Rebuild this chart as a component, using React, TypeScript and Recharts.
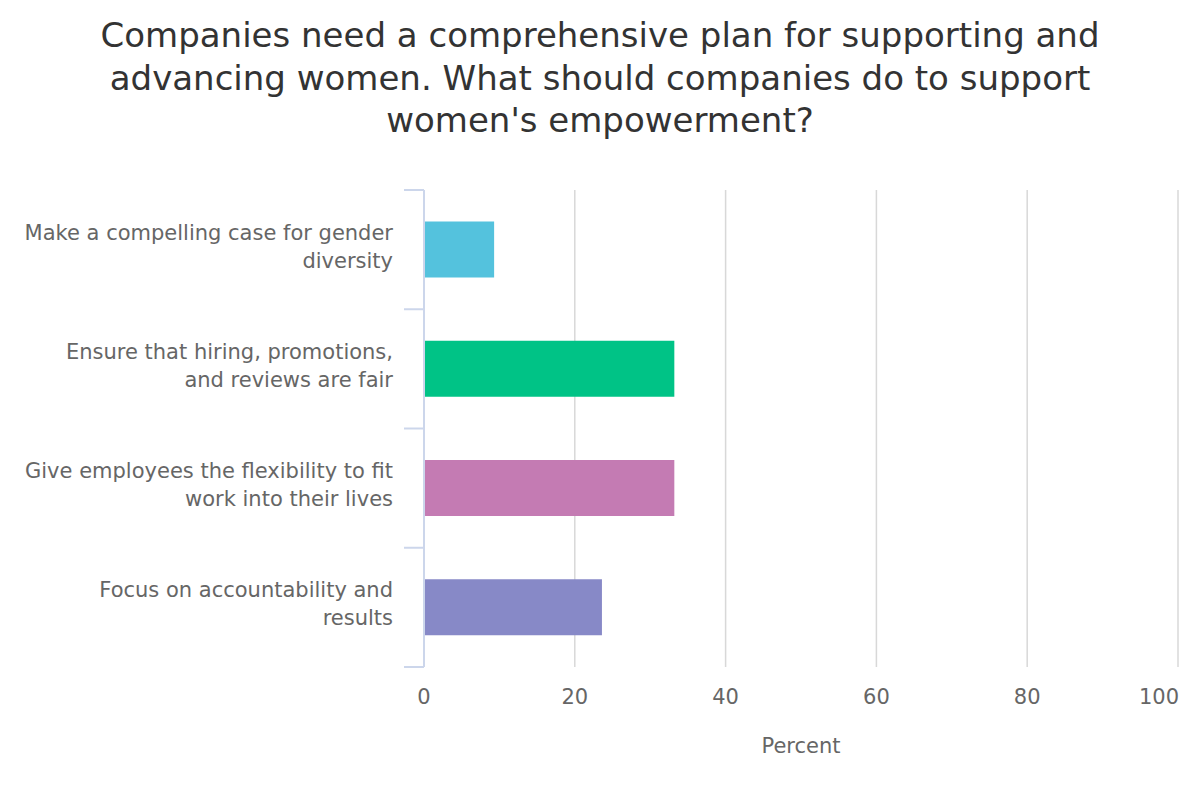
import { BarChart, Bar, XAxis, YAxis, CartesianGrid, Cell } from "recharts";

const titleLines = [
  "Companies need a comprehensive plan for supporting and",
  "advancing women. What should companies do to support",
  "women's empowerment?",
];

const categories = [
  "Make a compelling case for gender diversity",
  "Ensure that hiring, promotions, and reviews are fair",
  "Give employees the flexibility to fit work into their lives",
  "Focus on accountability and results",
];

const categoryLines = [
  ["Make a compelling case for gender", "diversity"],
  ["Ensure that hiring, promotions,", "and reviews are fair"],
  ["Give employees the flexibility to fit", "work into their lives"],
  ["Focus on accountability and", "results"],
];

const percents = [9.3, 33.2, 33.2, 23.6];
const barColors = ["#54c2dd", "#00c386", "#c47bb3", "#8789c7"];
const xTicks = [0, 20, 40, 60, 80, 100];

const data = categories.map((name, i) => ({ name, value: percents[i] }));

const FONT = "'DejaVu Sans', Verdana, sans-serif";
const PLOT_LEFT = 424;
const PLOT_TOP = 190;
const PLOT_BOTTOM = 667;
const CHART_RIGHT = 1179;
const BAND = (PLOT_BOTTOM - PLOT_TOP) / categories.length;

function CategoryTick(props: any) {
  const { y, index, payload } = props;
  const lines: string[] = categoryLines[index] ?? [String(payload.value)];
  const lineH = 28;
  const start = y - 17;
  const top = y - BAND / 2;
  return (
    <g>
      <line x1={PLOT_LEFT - 20} x2={PLOT_LEFT} y1={top} y2={top} stroke="#ccd6eb" strokeWidth={2} />
      {index === categories.length - 1 ? (
        <line
          x1={PLOT_LEFT - 20}
          x2={PLOT_LEFT}
          y1={top + BAND}
          y2={top + BAND}
          stroke="#ccd6eb"
          strokeWidth={2}
        />
      ) : null}
      <text textAnchor="end" fontFamily={FONT} fontSize={21} fill="#666666">
        {lines.map((l, i) => (
          <tspan key={i} x={393} y={start + i * lineH} dominantBaseline="central">
            {l}
          </tspan>
        ))}
      </text>
    </g>
  );
}

function ValueTick(props: any) {
  const { x, y, payload } = props;
  const label = String(payload.value);
  // keep the last label inside the chart, like the original
  const halfW = label.length * 6.7;
  const overflow = x + halfW > CHART_RIGHT;
  return (
    <text
      x={overflow ? CHART_RIGHT : x}
      y={y}
      dy="0.71em"
      textAnchor={overflow ? "end" : "middle"}
      fontFamily={FONT}
      fontSize={21}
      fill="#666666"
    >
      {label}
    </text>
  );
}

export default function App() {
  return (
    <div style={{ position: "absolute", left: 0, top: 0, width: 1200, height: 800, background: "#fff" }}>
      <div
        style={{
          position: "absolute",
          left: 0,
          top: 14,
          width: 1200,
          textAlign: "center",
          fontFamily: FONT,
          fontSize: 34,
          lineHeight: "42.5px",
          color: "#333333",
        }}
      >
        {titleLines.map((t, i) => (
          <div key={i}>{t}</div>
        ))}
      </div>
      <BarChart
        width={1200}
        height={800}
        layout="vertical"
        data={data}
        margin={{ top: PLOT_TOP, right: 22, bottom: 0, left: 0 }}
        barCategoryGap="26.5%"
      >
        <CartesianGrid horizontal={false} stroke="#d8d8d8" strokeWidth={1.5} />
        <XAxis
          type="number"
          domain={[0, 100]}
          ticks={xTicks}
          height={800 - PLOT_BOTTOM}
          axisLine={false}
          tickLine={false}
          tickMargin={16}
          tick={<ValueTick />}
          label={{
            value: "Percent",
            position: "insideBottom",
            offset: 47,
            fontFamily: FONT,
            fontSize: 21,
            fill: "#666666",
          }}
        />
        <YAxis
          type="category"
          dataKey="name"
          width={PLOT_LEFT}
          axisLine={{ stroke: "#ccd6eb", strokeWidth: 2 }}
          tickLine={false}
          tick={<CategoryTick />}
          interval={0}
        />
        <Bar dataKey="value" isAnimationActive={false}>
          {data.map((d, i) => (
            <Cell key={d.name} fill={barColors[i]} />
          ))}
        </Bar>
      </BarChart>
    </div>
  );
}
